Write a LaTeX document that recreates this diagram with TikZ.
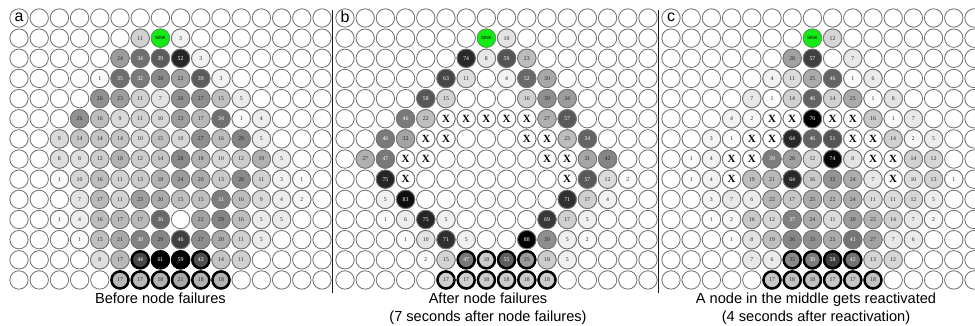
\documentclass[tikz,border=0pt]{standalone}
\usepackage{fontspec}
\setmainfont{Liberation Serif}
\newfontfamily\capfont{Liberation Sans}
\definecolor{sinkgreen}{RGB}{20,235,20}
\definecolor{ringgray}{RGB}{115,115,115}
\tikzset{
  ring/.style={draw=ringgray, line width=0.85pt},
  valnode/.style={circle, draw=ringgray, line width=0.85pt, minimum size=18.4pt, inner sep=0pt, font=\fontsize{5.8}{6}\selectfont},
  failnode/.style={circle, draw=ringgray, line width=0.85pt, minimum size=18.4pt, inner sep=0pt, fill=white, font=\fontsize{11}{11}\selectfont\bfseries},
  sinknode/.style={circle, draw=ringgray!60!green, line width=0.85pt, fill=sinkgreen, minimum size=18.4pt, inner sep=0pt, font=\capfont\fontsize{4.6}{5}\selectfont},
  boldring/.style={draw=black, line width=2.4pt},
  captext/.style={font=\capfont\fontsize{14.6}{16}\selectfont, anchor=base, inner sep=0pt},
  panellabel/.style={font=\capfont\fontsize{16}{16}\selectfont, inner sep=0pt},
  divider/.style={draw=black!90, line width=1.6pt},
}
\def\strS{S}\def\strX{X}
\newcommand\drawpanel[4]{%
  \foreach \r/\c/\v in {#4}{%
    \pgfmathsetmacro\xx{#2+(\c-1)*20.2}%
    \pgfmathsetmacro\yy{18+(\r-1)*20.15}%
    \edef\vv{\v}%
    \ifx\vv\strS
      \node[sinknode] (#1-\r-\c) at (\xx,\yy) {SINK};
    \else\ifx\vv\strX
      \node[failnode] (#1-\r-\c) at (\xx,\yy) {X};
    \else
      \pgfmathtruncatemacro\pct{round(100*\v/#3)}%
      \ifnum\pct>48 \def\tc{white}\else\def\tc{black!85}\fi
      \node[valnode, fill=black!\pct, text=\tc] (#1-\r-\c) at (\xx,\yy) {\v};
    \fi\fi
  }%
}
\begin{document}
\begin{tikzpicture}[x=1pt,y=-1pt]
\useasboundingbox (0,0) rectangle (975,325);
% empty grid
\foreach \xo in {19,345,671}{
  \foreach \r in {1,...,14}{
    \foreach \c in {1,...,16}{
      \draw[ring] ({\xo+(\c-1)*20.2},{18+(\r-1)*20.15}) circle[radius=9.2];
    }
  }
}
% panel a
\drawpanel{a}{19}{61}{2/7/11,2/8/S,2/9/3,
3/6/24,3/7/34,3/8/39,3/9/52,3/10/3,
4/5/1,4/6/35,4/7/32,4/8/28,4/9/22,4/10/39,4/11/3,
5/5/26,5/6/23,5/7/11,5/8/7,5/9/26,5/10/27,5/11/15,5/12/5,
6/4/26,6/5/16,6/6/9,6/7/11,6/8/10,6/9/23,6/10/17,6/11/34,6/12/1,6/13/4,
7/3/9,7/4/14,7/5/14,7/6/14,7/7/10,7/8/15,7/9/10,7/10/27,7/11/16,7/12/29,7/13/5,
8/3/8,8/4/8,8/5/12,8/6/18,8/7/12,8/8/14,8/9/28,8/10/18,8/11/10,8/12/12,8/13/19,8/14/5,
9/3/1,9/4/10,9/5/16,9/6/11,9/7/13,9/8/18,9/9/24,9/10/20,9/11/13,9/12/28,9/13/11,9/14/3,9/15/1,
10/4/7,10/5/17,10/6/11,10/7/23,10/8/20,10/9/15,10/10/15,10/11/31,10/12/16,10/13/9,10/14/4,10/15/2,
11/3/1,11/4/4,11/5/16,11/6/17,11/7/17,11/8/36,11/10/22,11/11/29,11/12/16,11/13/5,11/14/5,
12/4/1,12/5/15,12/6/21,12/7/30,12/8/29,12/9/46,12/10/27,12/11/20,12/12/11,12/13/5,
13/5/8,13/6/17,13/7/44,13/8/61,13/9/59,13/10/42,13/11/14,13/12/11,
14/6/17,14/7/17,14/8/18,14/9/21,14/10/18,14/11/18}
% panel b
\drawpanel{b}{345}{88}{2/8/S,2/9/10,
3/7/74,3/8/8,3/9/59,3/10/23,
4/6/63,4/7/11,4/9/4,4/10/52,4/11/30,
5/5/58,5/6/15,5/10/16,5/11/39,5/12/34,
6/4/46,6/5/22,6/6/X,6/7/X,6/8/X,6/9/X,6/10/X,6/11/27,6/12/57,
7/3/46,7/4/32,7/5/X,7/6/X,7/10/X,7/11/X,7/12/23,7/13/54,
8/2/27,8/3/47,8/4/X,8/5/X,8/11/X,8/12/X,8/13/31,8/14/42,
9/3/75,9/4/X,9/12/X,9/13/57,9/14/12,9/15/2,
10/3/5,10/4/83,10/12/71,10/13/17,10/14/4,
11/3/1,11/4/6,11/5/75,11/6/5,11/11/69,11/12/17,11/13/5,
12/4/1,12/5/10,12/6/71,12/7/5,12/10/88,12/11/39,12/12/5,12/13/2,
13/5/2,13/6/15,13/7/47,13/8/18,13/9/55,13/10/35,13/11/18,13/12/5,
14/6/17,14/7/17,14/8/18,14/9/18,14/10/18,14/11/18}
% panel c
\drawpanel{c}{671}{76}{2/8/S,2/9/12,
3/7/28,3/8/57,3/10/7,
4/6/4,4/7/11,4/8/25,4/9/46,4/10/1,4/11/6,
5/5/7,5/6/1,5/7/14,5/8/46,5/9/14,5/10/25,5/11/1,5/12/8,
6/4/4,6/5/2,6/6/X,6/7/X,6/8/76,6/9/X,6/10/X,6/11/16,6/12/1,6/13/7,
7/3/3,7/4/1,7/5/X,7/6/X,7/7/64,7/8/46,7/9/51,7/10/X,7/11/X,7/12/14,7/13/2,7/14/5,
8/2/1,8/3/4,8/4/X,8/5/X,8/6/39,8/7/28,8/8/12,8/9/74,8/10/8,8/11/X,8/12/X,8/13/14,8/14/12,
9/2/1,9/3/4,9/4/X,9/5/19,9/6/21,9/7/64,9/8/16,9/9/32,9/10/24,9/11/7,9/12/X,9/13/10,9/14/13,9/15/1,
10/3/3,10/4/7,10/5/6,10/6/22,10/7/17,10/8/25,10/9/22,10/10/24,10/11/11,10/12/11,10/13/12,10/14/5,
11/3/1,11/4/2,11/5/16,11/6/12,11/7/37,11/8/24,11/9/11,11/10/30,11/11/22,11/12/14,11/13/7,11/14/2,
12/4/1,12/5/8,12/6/19,12/7/36,12/8/33,12/9/25,12/10/41,12/11/27,12/12/7,12/13/6,
13/5/7,13/6/6,13/7/35,13/8/39,13/9/58,13/10/42,13/11/13,13/12/12,
14/6/17,14/7/18,14/8/18,14/9/17,14/10/17,14/11/18}
% bold rings
\foreach \xo in {19,345,671}{
  \foreach \r/\c in {13/7,13/8,13/9,13/10,14/6,14/7,14/8,14/9,14/10,14/11}{
    \draw[boldring] ({\xo+(\c-1)*20.2},{18+(\r-1)*20.15}) circle[radius=8.5];
  }
}
% panel labels
\node[panellabel] (la) at (19,17) {a};
\node[panellabel] (lb) at (345,17) {b};
\node[panellabel] (lc) at (671,17) {c};
% dividers
\coordinate (d1t) at (332.5,10);
\coordinate (d1b) at (332.5,293);
\coordinate (d2t) at (658.5,10);
\coordinate (d2b) at (658.5,293);
\draw[divider] (d1t) -- (d1b);
\draw[divider] (d2t) -- (d2b);
% captions
\node[captext] (capa) at (160.4,303) {Before node failures};
\node[captext] (capb1) at (488,303) {After node failures};
\node[captext] (capb2) at (488,321) {(7 seconds after node failures)};
\node[captext] (capc1) at (816,303) {A node in the middle gets reactivated};
\node[captext] (capc2) at (816,321) {(4 seconds after reactivation)};
\end{tikzpicture}
\end{document}
